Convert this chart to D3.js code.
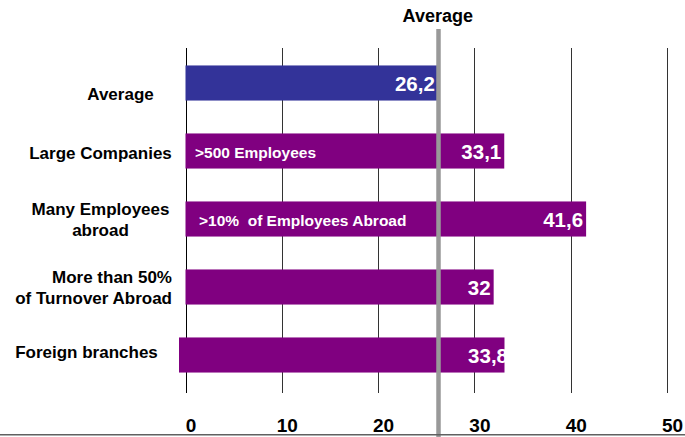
<!DOCTYPE html>
<html>
<head>
<meta charset="utf-8">
<script src="https://cdn.jsdelivr.net/npm/d3@7"></script>
<style>
  body { margin: 0; background: #fff; }
  svg text { font-family: "Liberation Sans", Arial, sans-serif; font-weight: bold; }
</style>
</head>
<body>
<div class="mainContainer"></div>
<script>
// chart data
var categories = ['Average', 'Large Companies', 'Many Employees abroad', 'More than 50% of Turnover Abroad', 'Foreign branches'];
var labelLines = [['Average'], ['Large Companies'], ['Many Employees', 'abroad'], ['More than 50%', 'of Turnover Abroad'], ['Foreign branches']];
var values = [26.2, 33.1, 41.6, 32, 33.8];
var valueText = ['26,2', '33,1', '41,6', '32', '33,8'];
var barNotes = ['', '>500 Employees', '>10%\u00a0\u00a0of Employees Abroad', '', ''];
var averageValue = 26.2;
var averageTitle = 'Average';
var tickValues = [0, 10, 20, 30, 40, 50];

var W = 685, H = 437;
var svg = d3.select('.mainContainer').append('svg').attr('width', W).attr('height', H);

var x = d3.scaleLinear().domain([0, 50]).range([185.5, 667]);
var y = d3.scaleBand().domain(categories).range([49, 389]).paddingInner(0.484).paddingOuter(0.242);

// grid lines (under the bars)
svg.append('g').selectAll('line').data(tickValues).enter().append('line')
	.attr('x1', function(d){ return Math.round(x(d)) + 0.5; })
	.attr('x2', function(d){ return Math.round(x(d)) + 0.5; })
	.attr('y1', 48).attr('y2', 393)
	.style('stroke', function(d){ return d === 0 ? '#000' : '#333'; })
	.style('stroke-width', 1);

// bars
var barColor = function(i){ return i === 0 ? '#333399' : '#800080'; };
svg.append('g').selectAll('rect').data(values).enter().append('rect')
	.attr('x', function(d, i){ return x(0) - (i === 4 ? 6.5 : 0); })
	.attr('y', function(d, i){ return y(categories[i]); })
	.attr('width', function(d){ return x(d) - x(0); })
	.attr('height', y.bandwidth())
	.style('fill', function(d, i){ return barColor(i); });

// notes inside bars
svg.append('g').selectAll('text').data(barNotes).enter().append('text')
	.attr('x', function(d, i){ return x(0) + (i === 2 ? 13.5 : 9.5); })
	.attr('y', function(d, i){ return y(categories[i]) + y.bandwidth() / 2 + 6.5; })
	.style('fill', '#fff').style('font-size', '15.5px')
	.text(function(d){ return d; });

// value labels
svg.append('g').selectAll('text').data(values).enter().append('text')
	.attr('x', function(d){ return x(d) - 3; })
	.attr('y', function(d, i){ return y(categories[i]) + y.bandwidth() / 2 + 8; })
	.attr('text-anchor', 'end')
	.style('fill', '#fff').style('font-size', '20.5px')
	.text(function(d, i){ return valueText[i]; });

// average line
svg.append('line')
	.attr('x1', x(averageValue) + 0.7).attr('x2', x(averageValue) + 0.7)
	.attr('y1', 29).attr('y2', H)
	.style('stroke', '#999').style('stroke-width', 4.5);
svg.append('text')
	.attr('x', x(averageValue)).attr('y', 22)
	.attr('text-anchor', 'middle')
	.style('font-size', '18px').style('fill', '#000')
	.text(averageTitle);

// bottom line
svg.append('line').attr('x1', 0).attr('x2', W).attr('y1', 434.8).attr('y2', 434.8)
	.style('stroke', '#606060').style('stroke-width', 1.5);

// x tick labels
var xAxis = d3.axisBottom(x).tickValues(tickValues).tickSize(0).tickFormat(d3.format('d'));
var ax = svg.append('g').attr('transform', 'translate(5,413)').call(xAxis);
ax.select('.domain').remove();
ax.selectAll('text').attr('dy', 0).attr('y', 18.5)
	.style('font-size', '19px').style('fill', '#000')
	.style('font-family', '"Liberation Sans", Arial, sans-serif').style('font-weight', 'bold');

// category labels
var labelNudge = [{dx: 20, dy: 11}, {dx: 0, dy: 2}, {dx: 0, dy: 0}, {dx: 0, dy: 0, end: 172}, {dx: -14, dy: -3}];
labelLines.forEach(function(lines, i){
	var cy = y(categories[i]) + y.bandwidth() / 2;
	var n = labelNudge[i];
	var t = svg.append('text')
		.attr('text-anchor', n.end ? 'end' : 'middle')
		.style('font-size', '17px').style('fill', '#000');
	lines.forEach(function(line, k){
		t.append('tspan')
			.attr('x', (n.end ? n.end : 100.5) + n.dx)
			.attr('y', cy + 6 - (lines.length - 1) * 10 + k * 20.5 + n.dy)
			.text(line);
	});
});
</script>
</body>
</html>
